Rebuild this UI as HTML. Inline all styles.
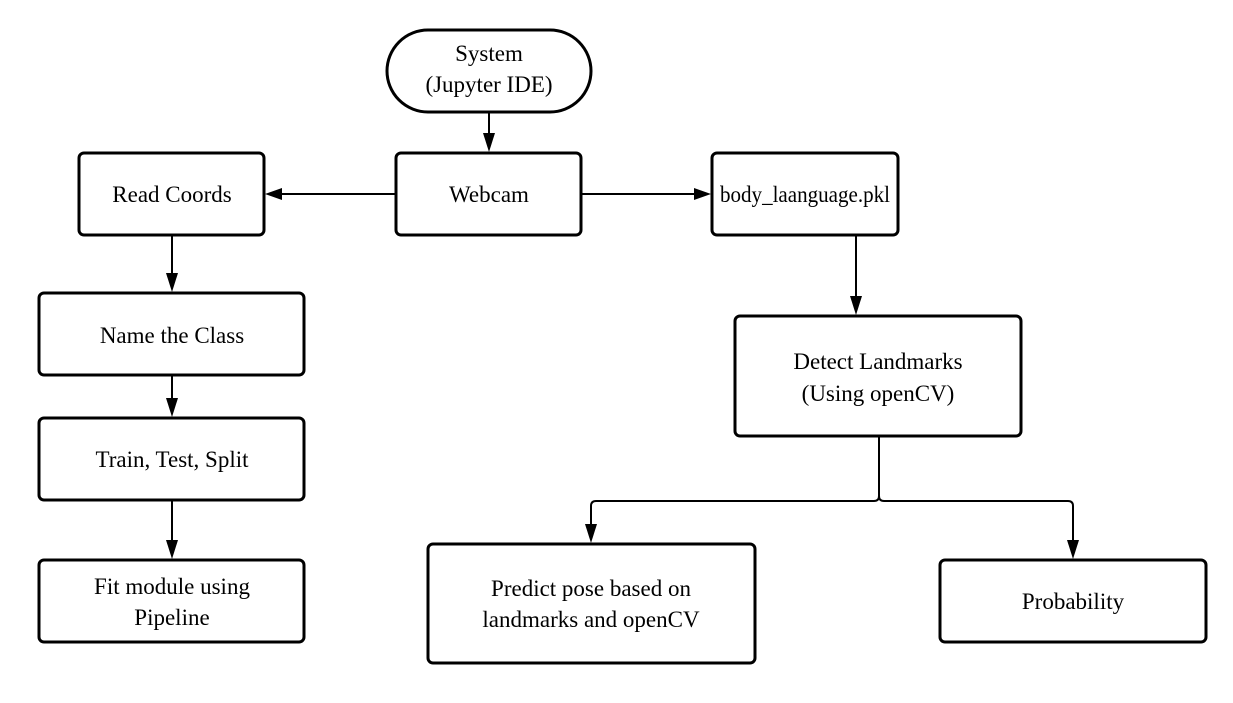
<!DOCTYPE html>
<html><head><meta charset="utf-8"><style>
html,body{margin:0;padding:0;background:#fff;}
svg{display:block;}
text{font-family:"Liberation Serif",serif;font-size:23px;fill:#000;text-anchor:middle;}
</style></head><body>
<svg width="1233" height="703" viewBox="0 0 1233 703" xmlns="http://www.w3.org/2000/svg">
<g fill="none" stroke="#000" stroke-width="3">
<rect x="387" y="30" width="204" height="82" rx="41"/>
<rect x="396" y="153" width="185" height="82" rx="5"/>
<rect x="79" y="153" width="185" height="82" rx="5"/>
<rect x="712" y="153" width="186" height="82" rx="5"/>
<rect x="39" y="293" width="265" height="82" rx="5"/>
<rect x="39" y="418" width="265" height="82" rx="5"/>
<rect x="39" y="560" width="265" height="82" rx="5"/>
<rect x="735" y="316" width="286" height="120" rx="5"/>
<rect x="428" y="544" width="327" height="119" rx="5"/>
<rect x="940" y="560" width="266" height="82" rx="5"/>
</g>
<g fill="none" stroke="#000" stroke-width="2">
<line x1="489" y1="112" x2="489" y2="135"/>
<line x1="396" y1="194" x2="280" y2="194"/>
<line x1="581" y1="194" x2="696" y2="194"/>
<line x1="172" y1="235" x2="172" y2="275"/>
<line x1="172" y1="375" x2="172" y2="400"/>
<line x1="172" y1="500" x2="172" y2="542"/>
<line x1="856" y1="235" x2="856" y2="298"/>
<path d="M879,436 V496 Q879,501 874,501 H596 Q591,501 591,506 V526"/>
<path d="M879,496 Q879,501 884,501 H1068 Q1073,501 1073,506 V542"/>
</g>
<g fill="#000">
<polygon points="483,133 495,133 489,152"/>
<polygon points="282,188 282,200 265,194"/>
<polygon points="694,188 694,200 711,194"/>
<polygon points="166,273 178,273 172,292"/>
<polygon points="166,398 178,398 172,417"/>
<polygon points="166,540 178,540 172,559"/>
<polygon points="850,296 862,296 856,315"/>
<polygon points="585,524 597,524 591,543"/>
<polygon points="1067,540 1079,540 1073,559"/>
</g>
<text x="489" y="61">System</text>
<text x="489" y="92">(Jupyter IDE)</text>
<text x="489" y="202">Webcam</text>
<text x="172" y="202">Read Coords</text>
<text x="805" y="202" textLength="170" lengthAdjust="spacingAndGlyphs">body_laanguage.pkl</text>
<text x="172" y="343">Name the Class</text>
<text x="172" y="467">Train, Test, Split</text>
<text x="172" y="594">Fit module using</text>
<text x="172" y="625">Pipeline</text>
<text x="878" y="369">Detect Landmarks</text>
<text x="878" y="401">(Using openCV)</text>
<text x="591" y="596">Predict pose based on</text>
<text x="591" y="627">landmarks and openCV</text>
<text x="1073" y="609">Probability</text>
</svg>
</body></html>
